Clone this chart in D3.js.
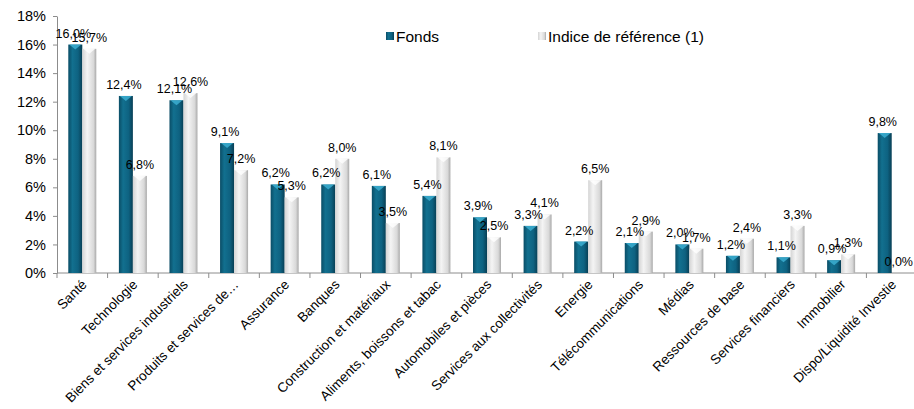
<!DOCTYPE html>
<html>
<head>
<meta charset="utf-8">
<script src="https://cdn.jsdelivr.net/npm/d3@7"></script>
<style>
  body { margin: 0; background: #fff; }
  svg { display: block; font-family: "Liberation Sans", Arial, sans-serif; }
  .axis .domain, .axis .tick line { stroke: #8c8c8c; }
  .axis text { fill: #000; }
</style>
</head>
<body>
<svg id="chart" width="914" height="409"></svg>
<script>
const categories = [
  "Santé", "Technologie", "Biens et services industriels", "Produits et services de…",
  "Assurance", "Banques", "Construction et matériaux", "Aliments, boissons et tabac",
  "Automobiles et pièces", "Services aux collectivités", "Energie", "Télécommunications",
  "Médias", "Ressources de base", "Services financiers", "Immobilier", "Dispo/Liquidité Investie"
];
const fonds = [16.0, 12.4, 12.1, 9.1, 6.2, 6.2, 6.1, 5.4, 3.9, 3.3, 2.2, 2.1, 2.0, 1.2, 1.1, 0.9, 9.8];
const indice = [15.7, 6.8, 12.6, 7.2, 5.3, 8.0, 3.5, 8.1, 2.5, 4.1, 6.5, 2.9, 1.7, 2.4, 3.3, 1.3, 0.0];
const yTicks = [0, 2, 4, 6, 8, 10, 12, 14, 16, 18];
const seriesNames = ["Fonds", "Indice de référence (1)"];

const svg = d3.select("#chart");
const plotLeft = 57, plotRight = 917, plotTop = 16, plotBottom = 273;

const x = d3.scaleBand().domain(categories).range([plotLeft, plotRight]);
const y = d3.scaleLinear().domain([0, 18]).range([plotBottom, plotTop]);
const barW = 14;
const fmt = v => v.toFixed(1).replace(".", ",") + "%";

// gradients
const defs = svg.append("defs");
const gF = defs.append("linearGradient").attr("id", "gF").attr("x1", 0).attr("x2", 1);
gF.append("stop").attr("offset", "0%").attr("stop-color", "#0a4d66");
gF.append("stop").attr("offset", "30%").attr("stop-color", "#12708f");
gF.append("stop").attr("offset", "70%").attr("stop-color", "#0e6281");
gF.append("stop").attr("offset", "100%").attr("stop-color", "#083f55");
const gI = defs.append("linearGradient").attr("id", "gI").attr("x1", 0).attr("x2", 1);
gI.append("stop").attr("offset", "0%").attr("stop-color", "#d4d4d4");
gI.append("stop").attr("offset", "35%").attr("stop-color", "#f4f4f4");
gI.append("stop").attr("offset", "80%").attr("stop-color", "#d9d9d9");
gI.append("stop").attr("offset", "100%").attr("stop-color", "#a9a9a9");

// y axis
svg.append("g").attr("class", "axis")
  .attr("transform", `translate(${plotLeft},0)`)
  .call(d3.axisLeft(y).tickValues(yTicks).tickFormat(d => d + "%").tickSize(4).tickSizeOuter(0))
  .call(g => g.selectAll("text").attr("font-size", 14.5).attr("dx", -4));

// x axis
const xAxis = svg.append("g").attr("class", "axis")
  .attr("transform", `translate(0,${plotBottom})`);
xAxis.append("line").attr("x1", plotLeft).attr("x2", plotRight).attr("stroke", "#8c8c8c");
xAxis.selectAll("line.tk").data(categories).join("line").attr("class", "tk")
  .attr("x1", d => x(d)).attr("x2", d => x(d)).attr("y1", 0).attr("y2", 5)
  .attr("stroke", "#8c8c8c");
xAxis.selectAll("text").data(categories).join("text")
  .attr("transform", d => `translate(${x(d) + x.bandwidth() / 2 + 2},${9}) rotate(-45)`)
  .attr("text-anchor", "end")
  .attr("font-size", 13.5)
  .attr("dy", "0.35em")
  .text(d => d);

// bars
const groups = svg.append("g").selectAll("g").data(categories).join("g")
  .attr("transform", d => `translate(${x(d) + x.bandwidth() / 2},0)`);

function drawBars(vals, offset, fill, topCol) {
  groups.append("rect")
    .attr("x", offset).attr("width", barW)
    .attr("y", (d, i) => y(vals[i]))
    .attr("height", (d, i) => plotBottom - y(vals[i]))
    .attr("fill", fill);
  groups.append("path")
    .attr("d", (d, i) => {
      const t = y(vals[i]);
      if (vals[i] <= 0) return "";
      return `M${offset + 1},${t}L${offset + barW - 1},${t}L${offset + barW / 2},${t + 5}Z`;
    })
    .attr("fill", topCol).attr("opacity", 0.8);
}
drawBars(fonds, -barW, "url(#gF)", "#3fb3d6");
drawBars(indice, 0, "url(#gI)", "#ffffff");

// labels
groups.append("text")
  .attr("x", -barW / 2 - 2).attr("y", (d, i) => y(fonds[i]) - 7)
  .attr("text-anchor", "middle").attr("font-size", 12.5)
  .text((d, i) => fmt(fonds[i]));
groups.append("text")
  .attr("x", barW / 2).attr("y", (d, i) => y(indice[i]) - 7)
  .attr("text-anchor", "middle").attr("font-size", 12.5)
  .text((d, i) => fmt(indice[i]));

// legend
const legend = svg.append("g");
const legX = [386, 538];
seriesNames.forEach((name, i) => {
  legend.append("rect").attr("x", legX[i]).attr("y", 32).attr("width", 8).attr("height", 8)
    .attr("fill", i === 0 ? "url(#gF)" : "url(#gI)");
  legend.append("text").attr("x", legX[i] + 10).attr("y", 41.5).attr("font-size", 15.5)
    .text(name);
});
</script>
</body>
</html>
